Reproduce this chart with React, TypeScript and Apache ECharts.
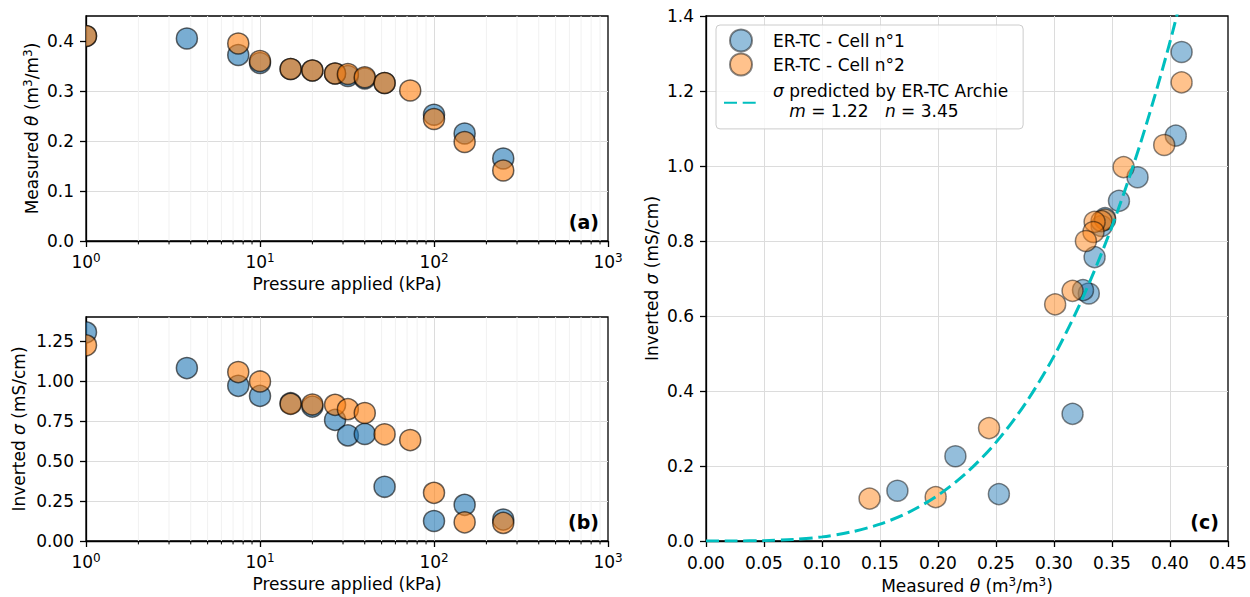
import React, { useEffect, useRef } from 'react';
import * as echarts from 'echarts';

// ---------- data ----------
const cell1Name = 'ER-TC - Cell n°1';
const cell2Name = 'ER-TC - Cell n°2';
const archieName = 'σ predicted by ER-TC Archie\n   m = 1.22   n = 3.45';

const pressureCell1 = [1, 3.8, 7.5, 10, 15, 20, 27, 32, 40, 52, 100, 150, 250];
const thetaCell1 = [0.41, 0.405, 0.372, 0.356, 0.344, 0.341, 0.335, 0.33, 0.325, 0.316, 0.2525, 0.215, 0.165];
const sigmaCell1 = [1.304, 1.081, 0.97, 0.907, 0.861, 0.84, 0.757, 0.66, 0.669, 0.339, 0.125, 0.226, 0.134];

const pressureCell2 = [1, 7.5, 10, 15, 20, 27, 32, 40, 52, 73, 100, 150, 250];
const thetaCell2 = [0.41, 0.395, 0.36, 0.344, 0.341, 0.335, 0.334, 0.3275, 0.316, 0.301, 0.244, 0.198, 0.141];
const sigmaCell2 = [1.223, 1.056, 0.997, 0.857, 0.853, 0.851, 0.824, 0.8, 0.667, 0.631, 0.301, 0.117, 0.113];

const archieTheta = [0, 0.025, 0.05, 0.075, 0.1, 0.125, 0.15, 0.175, 0.2, 0.225, 0.25, 0.275, 0.3, 0.325, 0.35, 0.375, 0.4, 0.425];
const archieSigma = [0, 0.0001, 0.001, 0.004, 0.011, 0.024, 0.045, 0.077, 0.122, 0.183, 0.263, 0.365, 0.493, 0.65, 0.839, 1.065, 1.331, 1.64];

const minorPressureTicks = [2, 3, 4, 5, 6, 7, 8, 9, 20, 30, 40, 50, 60, 70, 80, 90, 200, 300, 400, 500, 600, 700, 800, 900];
const thetaTicks = [0, 0.1, 0.2, 0.3, 0.4];
const sigmaTicksB = [0, 0.25, 0.5, 0.75, 1.0, 1.25];

// ---------- styles ----------
const FONT = "'DejaVu Sans', sans-serif";
const BLUE = 'rgba(31,119,180,0.6)';
const ORANGE = 'rgba(255,127,14,0.6)';
const EDGE = 'rgba(0,0,0,0.6)';
const GRID_MAJOR = '#dcdcdc';
const GRID_MINOR = '#f1f1f1';
const MARKER = 21;

const rich = {
  sup: { fontFamily: FONT, fontSize: 12, color: '#000', verticalAlign: 'top' },
  i: { fontFamily: FONT, fontSize: 17, color: '#000', fontStyle: 'italic' },
};

const axisLine = { show: true, onZero: false, lineStyle: { color: '#000', width: 1.3 } };
const axisTick = { show: true, length: 6, lineStyle: { color: '#000', width: 1.3 } };
const splitLine = { show: true, showMinLine: false, showMaxLine: false, lineStyle: { color: GRID_MAJOR, width: 1 } };
const labelBase = { color: '#000', fontFamily: FONT, fontSize: 17, margin: 12 };
const nameStyle = { color: '#000', fontFamily: FONT, fontSize: 17, lineHeight: 20, rich };

function logXAxis(gridIndex: number) {
  return {
    type: 'log', gridIndex, min: 1, max: 1000, logBase: 10,
    name: 'Pressure applied (kPa)', nameLocation: 'middle', nameGap: 33, nameTextStyle: nameStyle,
    axisLine, axisTick, splitLine,
    axisLabel: {
      ...labelBase, margin: 11, lineHeight: 20, rich,
      formatter: (v: number) => `10{sup|${Math.round(Math.log10(v))}}`,
    },
  };
}

function minorSeries(idx: number, yMax: number) {
  return {
    type: 'custom', xAxisIndex: idx, yAxisIndex: idx, silent: true, z: 1, clip: false,
    encode: { x: 0, y: 1 },
    data: minorPressureTicks.map((v) => [v, 0]),
    renderItem: (_p: any, api: any) => {
      const v = api.value(0);
      const b = api.coord([v, 0]);
      const t = api.coord([v, yMax]);
      return {
        type: 'group',
        children: [
          { type: 'line', shape: { x1: b[0], y1: t[1], x2: b[0], y2: b[1] }, style: { stroke: GRID_MINOR, lineWidth: 1 } },
          { type: 'line', shape: { x1: b[0], y1: b[1], x2: b[0], y2: b[1] + 3.4 }, style: { stroke: '#000', lineWidth: 1 } },
        ],
      };
    },
  };
}

function scatter(name: string, color: string, idx: number, xs: number[], ys: number[], z: number) {
  return {
    type: 'scatter', name, xAxisIndex: idx, yAxisIndex: idx, z,
    symbol: 'circle', symbolSize: MARKER, clip: true,
    itemStyle: { color, borderColor: EDGE, borderWidth: 1.5 },
    data: xs.map((x, i) => [x, ys[i]]),
  };
}

// markers clipped at the plot frame (matplotlib clips them)
function clippedScatter(name: string, color: string, idx: number, xs: number[], ys: number[], z: number) {
  return {
    type: 'custom', name, xAxisIndex: idx, yAxisIndex: idx, z, clip: true,
    encode: { x: 0, y: 1 },
    itemStyle: { color },
    data: xs.map((x, i) => [x, ys[i]]),
    renderItem: (_p: any, api: any) => {
      const c = api.coord([api.value(0), api.value(1)]);
      return {
        type: 'circle',
        shape: { cx: c[0], cy: c[1], r: MARKER / 2 },
        style: { fill: color, stroke: EDGE, lineWidth: 1.5 },
      };
    },
  };
}

function panelLabel(text: string, x: number, y: number) {
  return {
    type: 'text', x, y, z: 100,
    style: { text, align: 'right', verticalAlign: 'middle', font: `bold 19px ${FONT}`, fill: '#000' },
  };
}

const gridBase = {
  show: true, borderColor: '#000', borderWidth: 1.3, backgroundColor: 'transparent',
  containLabel: false, outerBoundsMode: 'none',
};

const option: any = {
  animation: false,
  backgroundColor: '#fff',
  grid: [
    { ...gridBase, left: 86, top: 16, width: 522, height: 225 },
    { ...gridBase, left: 86, top: 317, width: 522, height: 224 },
    { ...gridBase, left: 706, top: 16, width: 522, height: 525 },
  ],
  xAxis: [
    logXAxis(0),
    logXAxis(1),
    {
      type: 'value', gridIndex: 2, min: 0, max: 0.45, interval: 0.05,
      name: 'Measured {i|θ} (m{sup|3}/m{sup|3})', nameLocation: 'middle', nameGap: 34, nameTextStyle: nameStyle,
      axisLine, axisTick, splitLine,
      axisLabel: { ...labelBase, margin: 13, formatter: (v: number) => v.toFixed(2) },
    },
  ],
  yAxis: [
    {
      type: 'value', gridIndex: 0, min: 0, max: 0.45,
      name: 'Measured {i|θ} (m{sup|3}/m{sup|3})', nameLocation: 'middle', nameGap: 44, nameRotate: 90, nameTextStyle: nameStyle,
      axisLine, axisTick: { ...axisTick, customValues: thetaTicks }, splitLine,
      axisLabel: { ...labelBase, customValues: thetaTicks, formatter: (v: number) => v.toFixed(1) },
    },
    {
      type: 'value', gridIndex: 1, min: 0, max: 1.4,
      name: 'Inverted {i|σ} (mS/cm)', nameLocation: 'middle', nameGap: 57, nameRotate: 90, nameTextStyle: nameStyle,
      axisLine, axisTick: { ...axisTick, customValues: sigmaTicksB }, splitLine,
      axisLabel: { ...labelBase, customValues: sigmaTicksB, formatter: (v: number) => v.toFixed(2) },
    },
    {
      type: 'value', gridIndex: 2, min: 0, max: 1.4, interval: 0.2,
      name: 'Inverted {i|σ} (mS/cm)', nameLocation: 'middle', nameGap: 44, nameRotate: 90, nameTextStyle: nameStyle,
      axisLine, axisTick, splitLine,
      axisLabel: { ...labelBase, formatter: (v: number) => v.toFixed(1) },
    },
  ],
  legend: {
    orient: 'vertical', left: 716, top: 25,
    itemWidth: 34, itemHeight: 22, itemGap: 0,
    padding: [3.5, 15, 0, 7],
    borderColor: '#cccccc', borderWidth: 1, borderRadius: 4, backgroundColor: 'rgba(255,255,255,0.8)',
    selectedMode: false,
    textStyle: { color: '#000', fontFamily: FONT, fontSize: 17, lineHeight: 20, padding: [0, 0, 0, 10], rich },
    formatter: (name: string) =>
      name === archieName ? '{i|σ} predicted by ER-TC Archie\n   {i|m} = 1.22   {i|n} = 3.45' : name,
    data: [
      { name: cell1Name },
      { name: cell2Name },
      {
        name: archieName,
        itemStyle: { color: 'rgba(0,0,0,0)', borderColor: 'rgba(0,0,0,0)', borderWidth: 0 },
        textStyle: { padding: [4.5, 0, 7.9, 10] },
      },
    ],
  },
  graphic: [
    panelLabel('(a)', 599, 222),
    panelLabel('(b)', 599, 522),
    panelLabel('(c)', 1219, 522),
  ],
  series: [
    scatter(cell1Name, BLUE, 2, thetaCell1, sigmaCell1, 3),
    scatter(cell2Name, ORANGE, 2, thetaCell2, sigmaCell2, 4),
    {
      type: 'line', name: archieName, xAxisIndex: 2, yAxisIndex: 2, z: 5,
      showSymbol: false, symbol: 'none', smooth: 0.3, clip: true,
      lineStyle: { color: '#00bfbf', width: 3, type: [13, 5.7] },
      itemStyle: { color: '#00bfbf' },
      data: archieTheta.map((t, i) => [t, archieSigma[i]]),
    },
    minorSeries(0, 0.45),
    minorSeries(1, 1.4),
    clippedScatter(cell1Name, BLUE, 0, pressureCell1, thetaCell1, 3),
    clippedScatter(cell2Name, ORANGE, 0, pressureCell2, thetaCell2, 4),
    clippedScatter(cell1Name, BLUE, 1, pressureCell1, sigmaCell1, 3),
    clippedScatter(cell2Name, ORANGE, 1, pressureCell2, sigmaCell2, 4),
  ],
};

export default function App() {
  const ref = useRef<HTMLDivElement>(null);
  useEffect(() => {
    const chart = echarts.init(ref.current!, null, { renderer: 'svg' });
    chart.setOption(option);
    return () => chart.dispose();
  }, []);
  return <div ref={ref} style={{ position: 'absolute', left: 0, top: 0, width: 1250, height: 597 }} />;
}
